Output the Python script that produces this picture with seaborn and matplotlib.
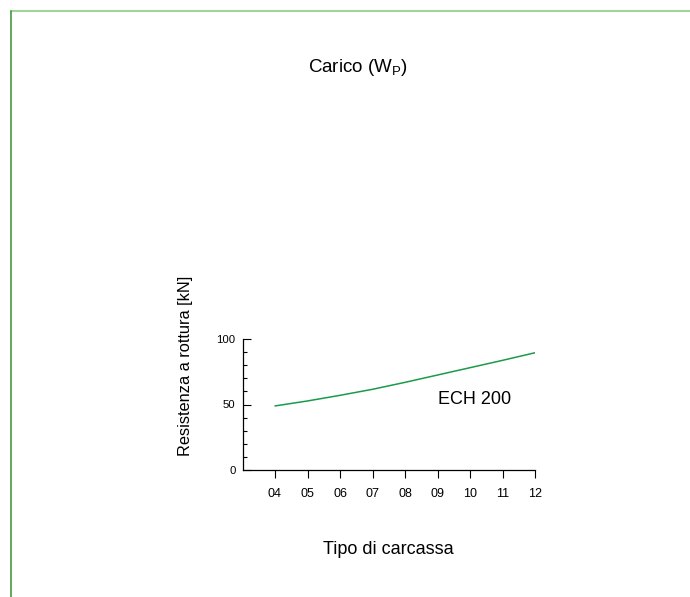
import matplotlib
matplotlib.use('Agg')
import matplotlib.pyplot as plt
import seaborn as sns
import pandas as pd
from matplotlib.lines import Line2D
from matplotlib.ticker import MultipleLocator

# values
sizes = ['04', '05', '06', '07', '08', '09', '10', '11', '12']
strength = [48.9, 52.7, 57.0, 61.6, 66.9, 72.5, 78.1, 83.7, 89.5]
series_label = 'ECH 200'

df = pd.DataFrame({'pos': range(4, 4 + len(sizes)), 'kN': strength})

sns.set_style('white')
plt.rcParams['font.family'] = ['Liberation Sans', 'DejaVu Sans']
plt.rcParams['mathtext.fontset'] = 'custom'
plt.rcParams['mathtext.rm'] = 'Liberation Sans'
plt.rcParams['text.color'] = 'black'

fig = plt.figure(figsize=(6.9, 5.97), dpi=100)
ax = fig.add_axes([242.5 / 690, 127 / 597, 292.5 / 690, 131 / 597])

sns.lineplot(data=df, x='pos', y='kN', color='#1a9a4a', linewidth=1.1, ax=ax)

ax.set_xlim(3, 12)
ax.set_ylim(0, 100)
ax.set_xticks(df['pos'])
ax.set_xticklabels(sizes)
ax.set_yticks([0, 50, 100])
ax.yaxis.set_minor_locator(MultipleLocator(10))
ax.tick_params(axis='x', direction='out', length=6, width=0.8, labelsize=9, pad=7, bottom=True,
               colors='black')
ax.tick_params(axis='y', which='major', direction='in', length=6, width=0.8, labelsize=8.2, pad=5,
               left=True, colors='black')
ax.tick_params(axis='y', which='minor', direction='in', length=3, width=0.8, left=True, colors='black')

for s in ['top', 'right']:
    ax.spines[s].set_visible(False)
for s in ['left', 'bottom']:
    ax.spines[s].set_color('black')
    ax.spines[s].set_linewidth(0.9)

ax.set_xlabel('')
ax.set_ylabel('')
ax.text(9.0, 54, series_label, fontsize=13, va='center', ha='left', color='black')

fig.text(358 / 690, 1 - 68 / 597, 'Carico (W$_\\mathrm{P}$)', fontsize=13.5, ha='center', va='center')
fig.text(388 / 690, 1 - 550 / 597, 'Tipo di carcassa', fontsize=13, ha='center', va='center')
fig.text(185 / 690, 1 - 366 / 597, 'Resistenza a rottura [kN]', fontsize=11.8, rotation=90,
         ha='center', va='center')

# frame lines at the top and left edge
fig.add_artist(Line2D([11 / 690, 1], [1 - 11 / 597] * 2, color='#a3d39c', linewidth=1.5,
                      transform=fig.transFigure))
fig.add_artist(Line2D([11 / 690] * 2, [0, 1 - 11 / 597], color='#3f9b3f', linewidth=1.2,
                      transform=fig.transFigure))

fig.savefig('out.png', dpi=100)
